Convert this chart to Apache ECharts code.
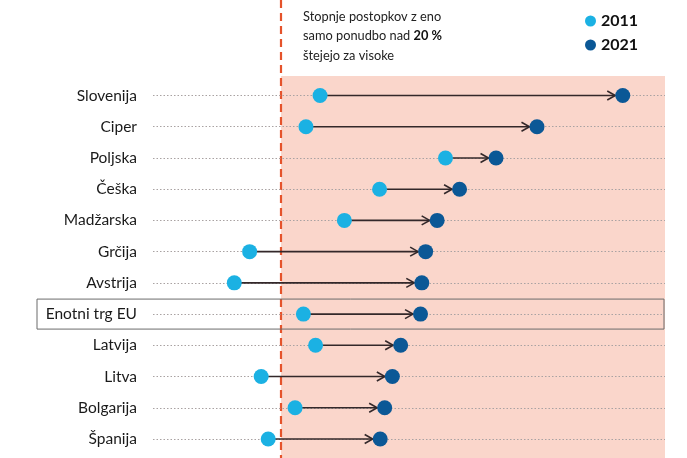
<!DOCTYPE html>
<html><head><meta charset="utf-8">
<script src="https://cdn.jsdelivr.net/npm/echarts@6/dist/echarts.min.js"></script>
<style>html,body{margin:0;padding:0;background:#fff}#c{width:687px;height:458px}</style>
</head><body><div id="c"></div>
<script>
const categories = ['Slovenija','Ciper','Poljska','Češka','Madžarska','Grčija','Avstrija','Enotni trg EU','Latvija','Litva','Bolgarija','Španija'];
const values2011 = [26.1,23.9,45.7,35.4,29.9,15.1,12.7,23.5,25.4,16.9,22.2,18.0];
const values2021 = [73.4,60.0,53.6,47.9,44.4,42.6,42.0,41.8,38.7,37.4,36.2,35.5];
const seriesNames = ['2011','2021'];
const threshold = 20;
const axisMin = 0, axisMax = 80;
const highlightCategory = 'Enotni trg EU';

const C11 = '#1bb1e3', C21 = '#0b5896', FONT = 'Lato, "Open Sans", sans-serif';
const chart = echarts.init(document.getElementById('c'), null, {renderer:'canvas'});

const arrowData = categories.map((c,i)=>[values2011[i], values2021[i], i]);

chart.setOption({
  animation:false,
  grid:{left:153, right:22, top:95.5, bottom:19},
  xAxis:{type:'value', min:axisMin, max:axisMax, show:false},
  yAxis:{type:'category', data:categories, inverse:true, boundaryGap:false,
    axisLine:{show:false}, axisTick:{show:false},
    axisLabel:{margin:16, fontFamily:FONT, fontSize:15.5, color:'#1a1a1a'},
    splitLine:{show:true, lineStyle:{color:'#a9a2a2', type:[1.5,2], width:1}}},
  legend:{data:seriesNames, orient:'vertical', left:580, top:8, itemGap:8, icon:'circle',
    itemWidth:11, itemHeight:11, textStyle:{fontFamily:FONT, fontWeight:'bold', fontSize:16, color:'#111'}},
  series:[
    {type:'custom', name:'arrows', data:arrowData, encode:{x:[0,1], y:2}, z:2,
      renderItem:function(params, api){
        const s = api.coord([api.value(0), api.value(2)]);
        const e = api.coord([api.value(1), api.value(2)]);
        const ex = e[0]-7.5, ey = e[1];
        return {type:'group', children:[
          {type:'line', shape:{x1:s[0], y1:s[1], x2:ex, y2:ey}, style:{stroke:'#33282a', lineWidth:1.6}},
          {type:'polyline', shape:{points:[[ex-8,ey-4.5],[ex,ey],[ex-8,ey+4.5]]}, style:{stroke:'#33282a', lineWidth:1.6, fill:null}}
        ]};
      }},
    {type:'scatter', name:seriesNames[0], data:values2011.map((v,i)=>[v,i]), symbolSize:15, itemStyle:{color:C11, opacity:1}, z:3},
    {type:'scatter', name:seriesNames[1], data:values2021.map((v,i)=>[v,i]), symbolSize:15, itemStyle:{color:C21, opacity:1}, z:4}
  ]
});

const xT = chart.convertToPixel({xAxisIndex:0}, threshold);
const xM = chart.convertToPixel({xAxisIndex:0}, axisMax);
const yEU = chart.convertToPixel({yAxisIndex:0}, highlightCategory);
chart.setOption({graphic:[
  {type:'rect', z:-10, silent:true, shape:{x:xT, y:76, width:xM-xT, height:458-76}, style:{fill:'#fad6cb'}},
  {type:'line', z:-5, silent:true, shape:{x1:xT, y1:0, x2:xT, y2:458}, style:{stroke:'#e5532b', lineWidth:2.2, lineDash:[8,5]}},
  {type:'rect', z:-4, silent:true, shape:{x:37, y:yEU-15, width:xM-1-37, height:30}, style:{fill:null, stroke:'#6b6b6b', lineWidth:1}},
  {type:'text', left:303, top:10, silent:true, style:{
    rich:{n:{fontFamily:FONT, fontSize:12.8, fill:'#222', lineHeight:19.5}, b:{fontFamily:FONT, fontSize:12.8, fill:'#111', fontWeight:'bold', lineHeight:19.5}},
    text:'{n|Stopnje postopkov z eno}\n{n|samo ponudbo nad }{b|20 %}\n{n|štejejo za visoke}'}}
]});
</script></body></html>
